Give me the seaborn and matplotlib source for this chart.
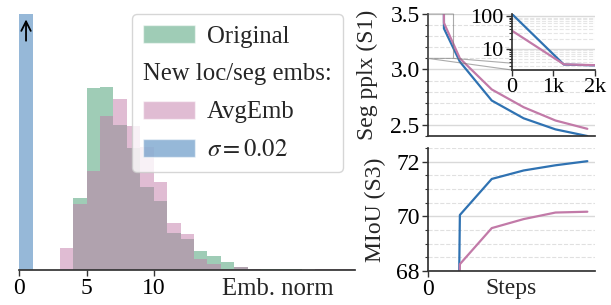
import numpy as np
import seaborn as sns
import matplotlib.pyplot as plt
from matplotlib import ticker
from matplotlib.patches import Patch

# --- left panel: histogram of embedding norms (unit-width bins, heights)
bin_edges = list(range(0, 26))
orig_counts = [0, 0, 0, 0, 72, 182, 183, 145, 122, 83, 69, 37, 31, 19, 14, 8, 3, 1.2,
               1, 0.6, 0.5, 0.4, 0.4, 0.4, 0.4]
avg_counts = [0, 0, 0, 22, 66, 99, 154, 171, 144, 123, 88, 47, 36, 11, 6, 1, 3, 0.5,
              0.3, 0.2, 0.2, 0.2, 0.8, 0.8, 0.8]
sigma_edges = [0, 1]
sigma_counts = [1000]  # runs off the top of the axis

# --- right panels: training curves
steps = [0, 1250, 2500, 5000, 7500, 10000, 12500]
pplx_sigma = [115, 3.37, 3.07, 2.72, 2.56, 2.46, 2.40]
pplx_avg = [35.8, 3.42, 3.10, 2.82, 2.66, 2.54, 2.465]
miou_steps = [1250, 2500, 5000, 7500, 10000, 12500]
miou_sigma = [20, 70.05, 71.37, 71.68, 71.87, 72.02]
miou_avg = [15, 68.25, 69.57, 69.90, 70.14, 70.17]

c_orig = '#419b6f'
c_avg = '#c27aa8'
c_sigma = '#2f72b2'

sns.set_theme(style='ticks')
plt.rcParams['font.family'] = ['Liberation Serif', 'DejaVu Serif']
plt.rcParams['mathtext.fontset'] = 'stix'
plt.rcParams['font.size'] = 17
plt.rcParams['axes.edgecolor'] = '0.2'
plt.rcParams['xtick.color'] = '0.2'
plt.rcParams['ytick.color'] = '0.2'
plt.rcParams['xtick.labelcolor'] = 'black'
plt.rcParams['ytick.labelcolor'] = 'black'

fig = plt.figure(figsize=(6.11, 3.05), dpi=100)

# histogram
ax = fig.add_axes([0.0316, 0.1148, 0.550, 0.839])
centers = [e + 0.5 for e in bin_edges[:-1]]
sns.histplot(x=centers, weights=orig_counts, bins=bin_edges, color=c_orig, alpha=0.5,
             linewidth=0, ax=ax)
sns.histplot(x=centers, weights=avg_counts, bins=bin_edges, color=c_avg, alpha=0.5,
             linewidth=0, ax=ax)
sns.histplot(x=[0.5], weights=sigma_counts, bins=sigma_edges, color=c_sigma, alpha=0.5,
             linewidth=0, ax=ax)
ax.set_xlim(0, 25)
ax.set_ylim(0, 256)
ax.set_yticks([])
ax.set_ylabel('')
ax.set_xticks([0, 5, 10])
ax.tick_params(axis='x', length=4, width=1, labelsize=17, pad=2)
sns.despine(ax=ax, left=True)
ax.set_xlabel('Emb. norm', fontsize=17.8, ha='left', va='baseline')
ax.xaxis.set_label_coords(0.603, -0.098)
ax.annotate('', xy=(0.5, 0.99), xytext=(0.5, 0.885),
            xycoords=('data', 'axes fraction'), textcoords=('data', 'axes fraction'),
            arrowprops=dict(arrowstyle='->', lw=1.3, color='black'))

handles = [Patch(facecolor=c_orig, alpha=0.5),
           Patch(facecolor='none', edgecolor='none'),
           Patch(facecolor=c_avg, alpha=0.5),
           Patch(facecolor=c_sigma, alpha=0.5)]
labels = ['Original', 'New loc/seg embs:', 'AvgEmb', r'$\sigma=0.02$']
leg = ax.legend(handles, labels, loc='upper right', bbox_to_anchor=(0.962, 1.0),
                borderaxespad=0, handlelength=2.1, handleheight=0.75, handletextpad=0.5,
                fontsize=17.8, frameon=True, labelspacing=0.62, borderpad=0.45)
# let the section title start where the colour swatches start
col = leg._legend_handle_box.get_children()[0]
row = col.get_children()[1]
row._children = [row.get_children()[1]]

# right: perplexity and mIoU
ax1 = fig.add_axes([0.7005, 0.554, 0.2733, 0.40])
ax2 = fig.add_axes([0.7005, 0.1115, 0.2733, 0.403])

sns.lineplot(x=steps, y=pplx_sigma, color=c_sigma, lw=1.6, ax=ax1)
sns.lineplot(x=steps, y=pplx_avg, color=c_avg, lw=1.6, ax=ax1)
sns.lineplot(x=miou_steps, y=miou_sigma, color=c_sigma, lw=1.6, ax=ax2)
sns.lineplot(x=miou_steps, y=miou_avg, color=c_avg, lw=1.6, ax=ax2)

ax1.set_ylim(2.4, 3.5)
ax1.yaxis.set_major_locator(ticker.MultipleLocator(0.5))
ax1.yaxis.set_minor_locator(ticker.MultipleLocator(0.1))
ax2.set_ylim(68, 72.5)
ax2.yaxis.set_major_locator(ticker.MultipleLocator(2))
ax2.yaxis.set_minor_locator(ticker.MultipleLocator(0.5))
for a in (ax1, ax2):
    a.set_xlim(0, 13100)
    a.set_xticks([0])
    a.set_axisbelow(True)
    a.grid(True, axis='y', which='major', color='0.85', lw=1)
    a.grid(True, axis='y', which='minor', color='0.88', ls='--', lw=0.8)
    a.tick_params(which='major', length=4, width=1, labelsize=17, pad=2)
    a.tick_params(which='minor', length=2.5, width=0.8)
    sns.despine(ax=a)
ax1.tick_params(axis='x', labelbottom=False, length=0)
ax1.set_ylabel('Seg pplx (S1)', fontsize=17, labelpad=9)
ax2.set_ylabel('MIoU (S3)', fontsize=17, labelpad=7)
ax2.set_xlabel('Steps', fontsize=17, va='baseline')
ax2.xaxis.set_label_coords(0.5, -0.187)

# inset with the first 2k steps on a log scale
axins = ax1.inset_axes([0.503, 0.541, 0.497, 0.459])
axins.set_facecolor('white')
sns.lineplot(x=steps, y=pplx_sigma, color=c_sigma, lw=1.6, ax=axins)
sns.lineplot(x=steps, y=pplx_avg, color=c_avg, lw=1.6, ax=axins)
axins.set_yscale('log')
axins.set_xlim(0, 2000)
axins.set_ylim(2.3, 115)
axins.set_xticks([0, 1000, 2000])
axins.xaxis.set_major_formatter(ticker.FuncFormatter(
    lambda v, _: '0' if v == 0 else f'{v / 1000:g}k'))
axins.set_yticks([10, 100])
axins.yaxis.set_major_formatter(ticker.FuncFormatter(lambda v, _: f'{v:g}'))
axins.yaxis.set_minor_formatter(ticker.NullFormatter())
axins.set_axisbelow(True)
axins.grid(True, axis='y', which='major', color='0.85', lw=1)
axins.grid(True, axis='y', which='minor', color='0.9', ls='--', lw=0.8)
axins.tick_params(which='major', length=4, width=1, labelsize=16, pad=2)
axins.tick_params(which='minor', length=2, width=0.8)
sns.despine(ax=axins)

ind = ax1.indicate_inset((0, 3.1, 2000, 0.4), inset_ax=axins, edgecolor='0.45',
                         alpha=0.6, lw=0.8)
conns = ind.connectors if hasattr(ind, 'connectors') else ind[1]
for i, c in enumerate(conns):
    c.set_visible(i in (0, 2))

fig.savefig('out.png', dpi=100)
